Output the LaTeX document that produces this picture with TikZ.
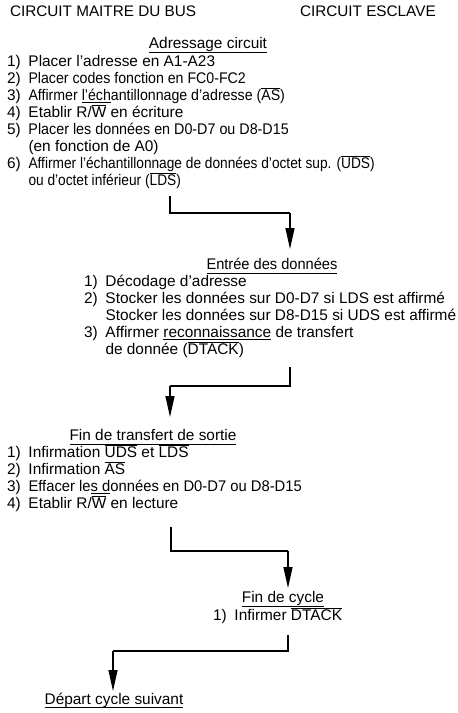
\documentclass[tikz,border=0pt]{standalone}
\usepackage{fontspec}
\usepackage{graphicx}
\setmainfont{Liberation Sans}
\usetikzlibrary{arrows.meta}
\newcommand\ovl[1]{\leavevmode\vbox{\hrule height 0.6pt\kern 1.1pt\hbox{#1}}}
\newcommand\uln[1]{\leavevmode\vtop{\hbox{#1}\kern 2.2pt\hrule height 0.6pt}}
\newcommand\numbox[1]{\makebox[21.5pt][l]{#1}}
\newcommand\indbox{\hspace*{21.5pt}}
\newcommand\hsq[2]{\scalebox{#1}[1]{#2}}
\begin{document}
\begin{tikzpicture}[x=1pt,y=-1pt,
  every node/.style={inner sep=0pt, outer sep=0pt},
  hdr/.style={anchor=base west, font=\fontsize{15.3}{18}\selectfont},
  txt/.style={anchor=base west, font=\fontsize{15.4}{18}\selectfont},
  ttl/.style={anchor=base, font=\fontsize{15.4}{18}\selectfont},
  conn/.style={line width=1.2pt},
  arr/.style={conn, -{Triangle[length=21pt,width=9pt]}},
  ul/.style={line width=0.7pt}]
\useasboundingbox (0,0) rectangle (458,713);
% headers
\node[hdr] (h1) at (10,16) {CIRCUIT MAITRE DU BUS};
\node[hdr] (h2) at (300,16) {CIRCUIT ESCLAVE};
% block 1
\node[ttl] (t1) at (208,48) {Adressage circuit};
\draw[ul] ([yshift=-4.5pt]t1.base west) -- ([yshift=-4.5pt]t1.base east);
\node[txt] (a1) at (7,66) {\numbox{1)}Placer l’adresse en A1-A23};
\node[txt] (a2) at (7,83) {\numbox{2)}\hsq{0.92}{Placer codes fonction en FC0-FC2}};
\node[txt] (a3) at (7,100) {\numbox{3)}\hsq{0.92}{Affirmer \uln{l’éch}antillonnage d’adresse (\ovl{AS})}};
\node[txt] (a4) at (7,117) {\numbox{4)}Etablir R/\ovl{W} en écriture};
\node[txt] (a5) at (7,134) {\numbox{5)}\hsq{0.93}{Placer les données en D0-D7 ou D8-D15}};
\node[txt] (a6) at (7,151) {\indbox(en fonction de A0)};
\node[txt] (a7) at (7,168) {\numbox{6)}\hsq{0.89}{Affirmer l’échantillonnage de données d’octet sup. (\ovl{UDS})}};
\node[txt] (a8) at (7,185) {\indbox\hsq{0.89}{ou d’octet inférieur (\ovl{LDS})}};
% connector 1
\coordinate (k1a) at (170,196);
\coordinate (k1b) at (170,213);
\coordinate (k1c) at (290,213);
\coordinate (k1d) at (290,249);
\draw[conn] (k1a) -- (k1b) -- (k1c);
\draw[arr] (k1c) -- (k1d);
% block 2
\node[ttl] (t2) at (272,269) {\hsq{0.95}{Entrée des données}};
\draw[ul] ([yshift=-4.5pt]t2.base west) -- ([yshift=-4.5pt]t2.base east);
\node[txt] (b1) at (84,286) {\numbox{1)}Décodage d’adresse};
\node[txt] (b2) at (84,303) {\numbox{2)}Stocker les données sur D0-D7 si LDS est affirmé};
\node[txt] (b3) at (84,320) {\indbox Stocker les données sur D8-D15 si UDS est affirmé};
\node[txt] (b4) at (84,337) {\numbox{3)}Affirmer \uln{reconnaissance} de transfert};
\node[txt] (b5) at (84,354) {\indbox de donnée (\ovl{DTACK})};
% connector 2
\coordinate (k2a) at (290,367);
\coordinate (k2b) at (290,386);
\coordinate (k2c) at (170,386);
\coordinate (k2d) at (170,417);
\draw[conn] (k2a) -- (k2b) -- (k2c);
\draw[arr] (k2c) -- (k2d);
% block 3
\node[ttl] (t3) at (153,440) {Fin de transfert de sortie};
\draw[ul] ([yshift=-4.5pt]t3.base west) -- ([yshift=-4.5pt]t3.base east);
\node[txt] (c1) at (7,457) {\numbox{1)}Infirmation \ovl{UDS} et \ovl{LDS}};
\node[txt] (c2) at (7,474) {\numbox{2)}Infirmation \ovl{AS}};
\node[txt] (c3) at (7,491) {\numbox{3)}\hsq{0.96}{Effacer le\uln{s d}onnées en D0-D7 ou D8-D15}};
\node[txt] (c4) at (7,508) {\numbox{4)}Etablir R/\ovl{W} en lecture};
% connector 3
\coordinate (k3a) at (171,527);
\coordinate (k3b) at (171,551);
\coordinate (k3c) at (288,551);
\coordinate (k3d) at (288,588);
\draw[conn] (k3a) -- (k3b) -- (k3c);
\draw[arr] (k3c) -- (k3d);
% block 4
\node[ttl] (t4) at (283,602) {Fin de cycle};
\draw[ul] ([yshift=-4.5pt]t4.base west) -- ([yshift=-4.5pt]t4.base east);
\node[txt] (d1) at (213,620) {\numbox{1)}Infirmer \ovl{DTACK}};
% connector 4
\coordinate (k4a) at (288,635);
\coordinate (k4b) at (288,651);
\coordinate (k4c) at (113,651);
\coordinate (k4d) at (113,691);
\draw[conn] (k4a) -- (k4b) -- (k4c);
\draw[arr] (k4c) -- (k4d);
% final
\node[ttl] (t5) at (114,704) {Départ cycle suivant};
\draw[ul] ([yshift=-3.5pt]t5.base west) -- ([yshift=-3.5pt]t5.base east);
\end{tikzpicture}
\end{document}
